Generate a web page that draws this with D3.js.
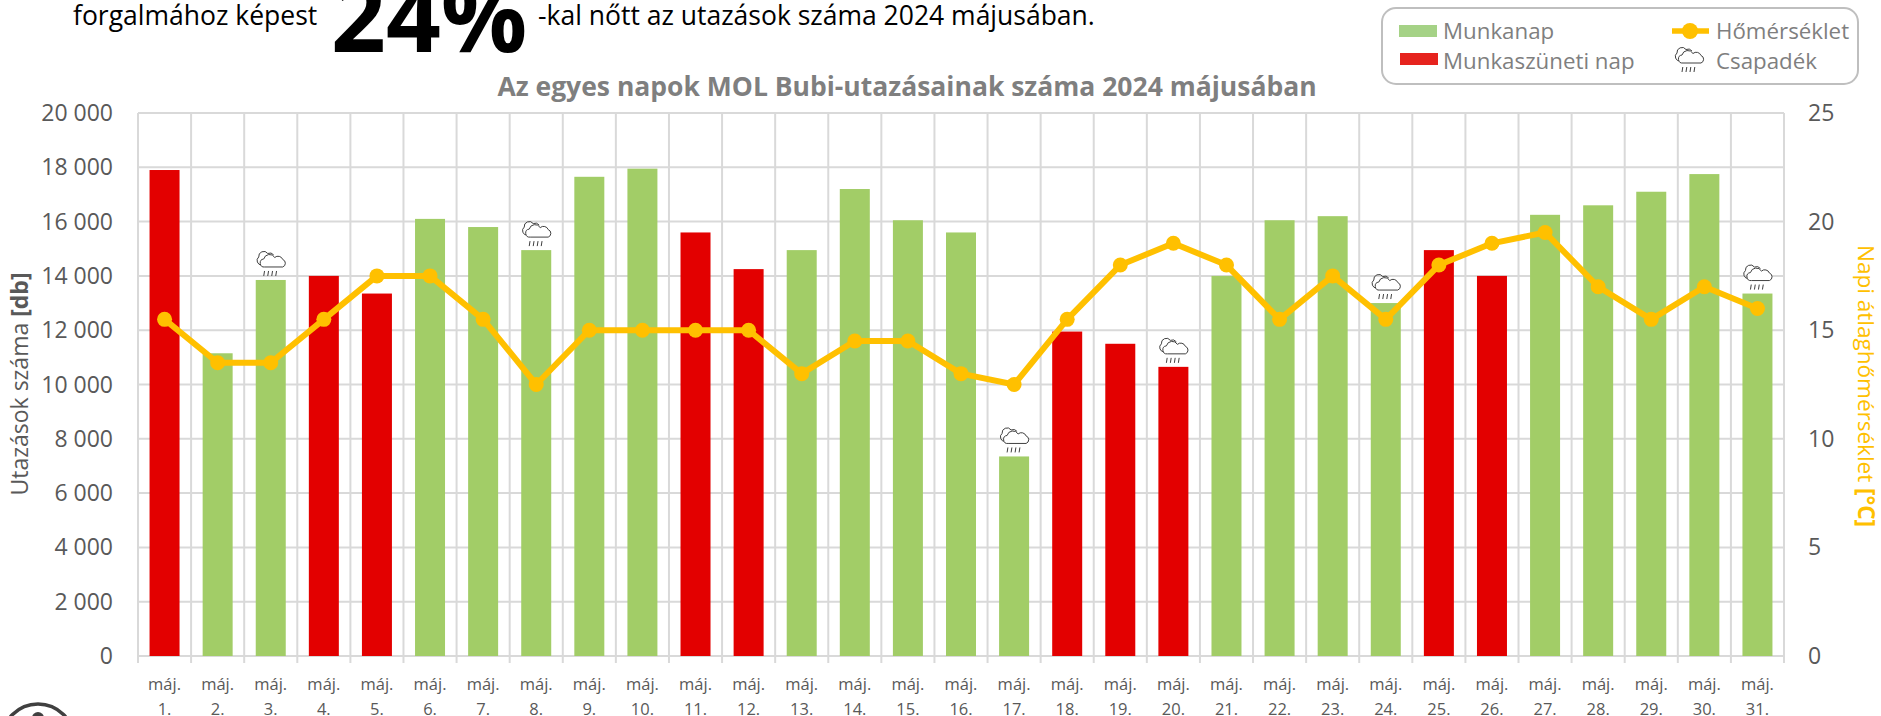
<!DOCTYPE html>
<html><head><meta charset="utf-8">
<script src="https://cdn.jsdelivr.net/npm/d3@7/dist/d3.min.js"></script>
<style>html,body{margin:0;padding:0;background:#fff;overflow:hidden}svg{display:block}text{font-family:"Open Sans",sans-serif}</style>
</head><body><svg id="c" width="1881" height="716"></svg>
<script>
const days = d3.range(1, 32);
const trips = [17900,11150,13850,14000,13350,16100,15800,14950,17650,17950,15600,14250,14950,17200,16050,15600,7350,11950,11500,10650,14000,16050,16200,13000,14950,14000,16250,16600,17100,17750,13350];
const holidays = [1,4,5,11,12,18,19,20,25,26];
const temps = [15.5,13.5,13.5,15.5,17.5,17.5,15.5,12.5,15,15,15,15,13,14.5,14.5,13,12.5,15.5,18,19,18,15.5,17.5,15.5,18,19,19.5,17,15.5,17,16];
const rainDays = [3,8,17,20,24,31];
const leftTicks = d3.range(0, 20001, 2000);
const rightTicks = [0,5,10,15,20,25];
const C = {green:'#a2cd67',red:'#e30000',line:'#ffc000',grid:'#d9d9d9',tick:'#595959',title:'#7f7f7f'};
const M = {l:138,r:1784,t:113,b:656};
const svg = d3.select('#c');
const x = d3.scaleBand().domain(days).range([M.l,M.r]);
const y = d3.scaleLinear().domain([0,20000]).range([M.b,M.t]);
const y2 = d3.scaleLinear().domain([0,25]).range([M.b,M.t]);
const fmt = v => d3.format(',')(v).replace(/,/g,' ');

svg.append('circle').attr('cx',38).attr('cy',740).attr('r',36).attr('fill','none').attr('stroke','#404040').attr('stroke-width',3.5);
svg.append('circle').attr('cx',38).attr('cy',718).attr('r',6).attr('fill','#404040');

const gL = svg.append('g');
gL.selectAll('line.h').data(leftTicks).join('line').attr('class','h')
  .attr('x1',M.l).attr('x2',M.r).attr('y1',d=>y(d)).attr('y2',d=>y(d))
  .attr('stroke',C.grid).attr('stroke-width',2);
const edges = days.map(d=>x(d)).concat([M.r]);
gL.selectAll('line.v').data(edges).join('line').attr('class','v')
  .attr('x1',d=>d).attr('x2',d=>d).attr('y1',M.t).attr('y2',M.b+7)
  .attr('stroke',C.grid).attr('stroke-width',2);

const bw = 30;
svg.append('g').selectAll('rect').data(days).join('rect')
  .attr('x',d=>x(d)+x.bandwidth()/2-bw/2).attr('width',bw)
  .attr('y',d=>y(trips[d-1])).attr('height',d=>M.b-y(trips[d-1]))
  .attr('fill',d=>holidays.includes(d)?C.red:C.green);

function cloud(g){
  const c = '#404040';
  g.append('path').attr('d','M-8,-1 a4.5,4.5 0 0 1 -3,-8 a5,5 0 0 1 9,-3.5 a5,5 0 0 1 6,1.5')
    .attr('fill','none').attr('stroke',c).attr('stroke-width',1);
  g.append('path').attr('d','M-5,1 a4,4 0 0 1 -1,-8 a6,6 0 0 1 11,-1.5 a5,5 0 0 1 8,2 a4,4 0 0 1 0,7.5 z')
    .attr('fill','#fff').attr('stroke',c).attr('stroke-width',1);
  [-6,-2,2,6].forEach(o=>g.append('line').attr('x1',o+.8).attr('x2',o).attr('y1',5).attr('y2',10).attr('stroke',c).attr('stroke-width',1));
}
rainDays.forEach(d=>{
  cloud(svg.append('g').attr('transform',`translate(${x(d)+x.bandwidth()/2-1},${y(trips[d-1])-14})`));
});

const cx = d=>x(d)+x.bandwidth()/2;
svg.append('path').datum(days)
  .attr('d',d3.line().x(cx).y(d=>y2(temps[d-1])))
  .attr('fill','none').attr('stroke',C.line).attr('stroke-width',6).attr('stroke-linejoin','round');
svg.append('g').selectAll('circle').data(days).join('circle')
  .attr('cx',cx).attr('cy',d=>y2(temps[d-1])).attr('r',7.5).attr('fill',C.line);

svg.append('g').selectAll('text').data(leftTicks).join('text')
  .attr('x',113).attr('y',d=>y(d)+8).attr('text-anchor','end').attr('font-size',23).attr('fill',C.tick).text(fmt);
svg.append('g').selectAll('text').data(rightTicks).join('text')
  .attr('x',1808).attr('y',d=>y2(d)+8).attr('font-size',23).attr('fill',C.tick).text(d=>d);
const cat = svg.append('g').selectAll('g').data(days).join('g');
cat.append('text').attr('x',cx).attr('y',690).attr('text-anchor','middle').attr('font-size',16.5).attr('fill',C.tick).text('máj.');
cat.append('text').attr('x',cx).attr('y',715).attr('text-anchor','middle').attr('font-size',16.5).attr('fill',C.tick).text(d=>d+'.');

svg.append('text').attr('transform','translate(28,384) rotate(-90)').attr('text-anchor','middle')
  .attr('font-size',23).attr('fill',C.tick)
  .html('Utazások száma <tspan font-weight="700">[db]</tspan>');
svg.append('text').attr('transform','translate(1858,386) rotate(90)').attr('text-anchor','middle')
  .attr('font-size',22.5).attr('fill',C.line)
  .html('Napi átlaghőmérséklet <tspan font-weight="700">[°C]</tspan>');
svg.append('text').attr('x',907).attr('y',96).attr('text-anchor','middle')
  .attr('font-size',26.5).attr('font-weight',700).attr('fill',C.title)
  .text('Az egyes napok MOL Bubi-utazásainak száma 2024 májusában');

svg.append('text').attr('x',73).attr('y',25).attr('font-size',26.5).attr('fill','#000').text('forgalmához képest');
svg.append('text').attr('x',331).attr('y',52).attr('font-size',96).attr('font-weight',700).attr('fill','#000').text('24%');
svg.append('text').attr('x',538).attr('y',25).attr('font-size',26.5).attr('fill','#000').text('-kal nőtt az utazások száma 2024 májusában.');

const L = svg.append('g');
L.append('rect').attr('x',1382).attr('y',8).attr('width',476).attr('height',76).attr('rx',14)
  .attr('fill','#fff').attr('stroke','#bfbfbf').attr('stroke-width',2);
const lt = (tx,ty,t)=>L.append('text').attr('x',tx).attr('y',ty).attr('font-size',22.3).attr('fill',C.title).text(t);
L.append('rect').attr('x',1399).attr('y',25).attr('width',38).attr('height',12).attr('fill','#a5d286');
L.append('rect').attr('x',1400).attr('y',53).attr('width',38).attr('height',12).attr('fill','#e6231e');
lt(1443,39,'Munkanap'); lt(1443,69,'Munkaszüneti nap');
L.append('line').attr('x1',1672).attr('x2',1709).attr('y1',31).attr('y2',31).attr('stroke',C.line).attr('stroke-width',5.5);
L.append('circle').attr('cx',1690).attr('cy',31).attr('r',8).attr('fill',C.line);
lt(1716,39,'Hőmérséklet'); lt(1716,69,'Csapadék');
cloud(L.append('g').attr('transform','translate(1688,62)'));
</script></body></html>
